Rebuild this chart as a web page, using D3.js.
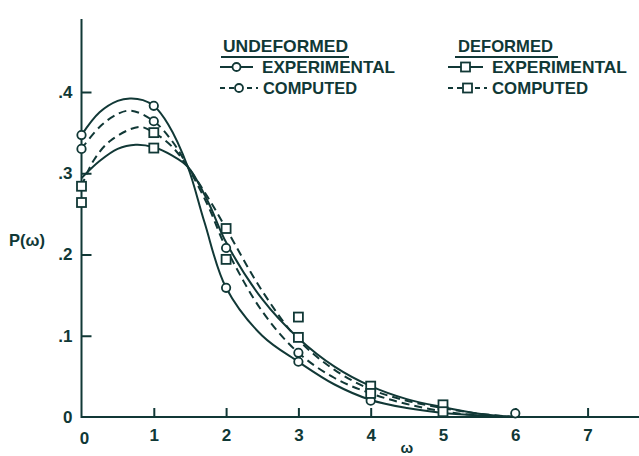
<!DOCTYPE html>
<html>
<head>
<meta charset="utf-8">
<script src="https://cdn.jsdelivr.net/npm/d3@7"></script>
<style>
  html, body { margin: 0; padding: 0; background: #ffffff; }
  svg { display: block; }
  text { font-family: "Liberation Sans", Arial, sans-serif; font-weight: bold; fill: #103836; }
</style>
</head>
<body>
<svg id="chart" width="639" height="456"></svg>
<script>
// ---------- data ----------
const xTicks = [0, 1, 2, 3, 4, 5, 6, 7];
const yTicks = [0, 0.1, 0.2, 0.3, 0.4];
const yTickLabels = ["0", ".1", ".2", ".3", ".4"];

// measured points
const ueX = [0, 1, 2, 3, 4, 6];
const ueY = [0.347, 0.383, 0.159, 0.068, 0.020, 0.0045];
const ucX = [0, 1, 2, 3];
const ucY = [0.330, 0.364, 0.208, 0.079];
const deX = [0, 1, 2, 3, 4, 5];
const deY = [0.264, 0.331, 0.194, 0.123, 0.038, 0.015];
const dcX = [0, 1, 2, 3, 4, 5];
const dcY = [0.284, 0.350, 0.232, 0.098, 0.029, 0.0065];

// smooth curves
const ueCurveW = [0, 0.25, 0.5, 0.67, 0.85, 1, 1.2, 1.47, 1.7, 2, 2.5, 3, 3.5, 4, 4.5, 5, 5.5, 6];
const ueCurveP = [0.347, 0.375, 0.389, 0.392, 0.390, 0.383, 0.360, 0.308, 0.240, 0.159, 0.100, 0.068, 0.040, 0.021, 0.011, 0.005, 0.002, 0];
const ucCurveW = [0, 0.25, 0.5, 0.69, 1, 1.25, 1.47, 1.75, 2, 2.5, 3, 3.5, 4, 4.5, 5, 5.5, 6];
const ucCurveP = [0.330, 0.357, 0.373, 0.377, 0.364, 0.340, 0.308, 0.260, 0.208, 0.130, 0.079, 0.048, 0.029, 0.016, 0.007, 0.002, 0];
const deCurveW = [0, 0.25, 0.5, 0.75, 1, 1.25, 1.47, 1.75, 2, 2.5, 3, 3.5, 4, 4.5, 5, 5.5, 6];
const deCurveP = [0.294, 0.315, 0.330, 0.335, 0.332, 0.322, 0.308, 0.265, 0.215, 0.145, 0.097, 0.062, 0.038, 0.022, 0.012, 0.004, 0];
const dcCurveW = [0, 0.17, 0.4, 0.8, 1, 1.25, 1.47, 1.75, 2, 2.5, 3, 3.5, 4, 4.5, 5, 5.5, 6];
const dcCurveP = [0.284, 0.316, 0.340, 0.357, 0.350, 0.333, 0.308, 0.270, 0.232, 0.155, 0.095, 0.058, 0.034, 0.020, 0.011, 0.004, 0];

// ---------- drawing ----------
const ink = "#113836";
const svg = d3.select("#chart");
const x = d3.scaleLinear().domain([0, 7.7]).range([81.5, 638.2]);
const y = d3.scaleLinear().domain([0, 0.4]).range([417, 92]);
const yTop = 0.49;

const zip = (a, b) => a.map((v, i) => [v, b[i]]);

// axes
const xAxis = d3.axisBottom(x).tickValues(xTicks.filter(d => d > 0))
  .tickSizeInner(-9).tickSizeOuter(0).tickFormat(d3.format("d"));
const gx = svg.append("g").attr("transform", `translate(0,${y(0)})`).call(xAxis);
gx.select(".domain").remove();
gx.selectAll("line").attr("stroke", ink).attr("stroke-width", 2);
gx.selectAll("text").attr("font-size", 17).attr("dy", "1.25em").attr("fill", "#103836")
  .style("font-family", "Liberation Sans, Arial, sans-serif").style("font-weight", "bold");
svg.append("text").attr("x", x(0) + 3).attr("y", y(0) + 27).attr("text-anchor", "middle")
  .attr("font-size", 17).text("0");
svg.append("line").attr("x1", x(0)).attr("x2", 639).attr("y1", y(0)).attr("y2", y(0))
  .attr("stroke", ink).attr("stroke-width", 2);

const yAxis = d3.axisLeft(y).tickValues(yTicks.filter(d => d > 0))
  .tickSizeInner(-10).tickSizeOuter(0).tickPadding(9)
  .tickFormat(d => yTickLabels[yTicks.indexOf(d)]);
const gy = svg.append("g").attr("transform", `translate(${x(0)},0)`).call(yAxis);
gy.select(".domain").remove();
gy.selectAll("line").attr("stroke", ink).attr("stroke-width", 2);
gy.selectAll("text").attr("font-size", 17).attr("fill", "#103836")
  .style("font-family", "Liberation Sans, Arial, sans-serif").style("font-weight", "bold");
svg.append("text").attr("x", x(0) - 9).attr("y", y(0)).attr("dy", "0.35em")
  .attr("text-anchor", "end").attr("font-size", 17).text(yTickLabels[0]);
svg.append("line").attr("x1", x(0)).attr("x2", x(0)).attr("y1", y(0) + 1).attr("y2", y(yTop))
  .attr("stroke", ink).attr("stroke-width", 2);

// axis titles
svg.append("text").attr("x", 27).attr("y", 246).attr("text-anchor", "middle")
  .attr("font-size", 16.5).text("P(ω)");
svg.append("text").attr("x", x(4.5)).attr("y", 453).attr("text-anchor", "middle")
  .attr("font-size", 15).text("ω");

// curves
const line = d3.line().x(d => x(d[0])).y(d => y(d[1])).curve(d3.curveCatmullRom.alpha(0.5));
const curves = [
  { w: ueCurveW, p: ueCurveP, dash: null },
  { w: ucCurveW, p: ucCurveP, dash: "8,5" },
  { w: deCurveW, p: deCurveP, dash: null },
  { w: dcCurveW, p: dcCurveP, dash: "8,5" }
];
curves.forEach(c => {
  svg.append("path").datum(zip(c.w, c.p)).attr("d", line)
    .attr("fill", "none").attr("stroke", ink).attr("stroke-width", 2)
    .attr("stroke-dasharray", c.dash);
});

// markers
function circles(xs, ys) {
  svg.append("g").selectAll("circle").data(zip(xs, ys)).join("circle")
    .attr("cx", d => x(d[0])).attr("cy", d => y(d[1])).attr("r", 4.2)
    .attr("fill", "#fff").attr("stroke", ink).attr("stroke-width", 1.8);
}
function squares(xs, ys) {
  svg.append("g").selectAll("rect").data(zip(xs, ys)).join("rect")
    .attr("x", d => x(d[0]) - 4.5).attr("y", d => y(d[1]) - 4.5)
    .attr("width", 9).attr("height", 9)
    .attr("fill", "#fff").attr("stroke", ink).attr("stroke-width", 1.8);
}
circles(ueX, ueY);
circles(ucX, ucY);
squares(deX, deY);
squares(dcX, dcY);

// legend
const lg = svg.append("g");
function legText(tx, ty, str, len, size) {
  lg.append("text").attr("x", tx).attr("y", ty).attr("font-size", size)
    .attr("textLength", len).attr("lengthAdjust", "spacingAndGlyphs").text(str);
}
legText(223, 52, "UNDEFORMED", 125, 17);
lg.append("line").attr("x1", 221).attr("x2", 349).attr("y1", 57).attr("y2", 57).attr("stroke", ink).attr("stroke-width", 2);
legText(262, 73, "EXPERIMENTAL", 133, 16.5);
legText(263, 94, "COMPUTED", 94, 16.5);
legText(458, 52, "DEFORMED", 95, 17);
lg.append("line").attr("x1", 455).attr("x2", 558).attr("y1", 57).attr("y2", 57).attr("stroke", ink).attr("stroke-width", 2);
legText(492, 73, "EXPERIMENTAL", 135, 16.5);
legText(492, 94, "COMPUTED", 96, 16.5);

function legSample(x1, x2, yy, dash, shape) {
  lg.append("line").attr("x1", x1).attr("x2", x2).attr("y1", yy).attr("y2", yy)
    .attr("stroke", ink).attr("stroke-width", 2).attr("stroke-dasharray", dash);
  const cx = (x1 + x2) / 2;
  if (shape === "c") {
    lg.append("circle").attr("cx", cx).attr("cy", yy).attr("r", 4)
      .attr("fill", "#fff").attr("stroke", ink).attr("stroke-width", 1.8);
  } else {
    lg.append("rect").attr("x", cx - 4.5).attr("y", yy - 4.5).attr("width", 9).attr("height", 9)
      .attr("fill", "#fff").attr("stroke", ink).attr("stroke-width", 1.8);
  }
}
legSample(220, 253, 67, null, "c");
legSample(220, 258, 88, "5,4", "c");
legSample(448, 483, 67, null, "s");
legSample(448, 487, 88, "5,4", "s");
</script>
</body>
</html>
